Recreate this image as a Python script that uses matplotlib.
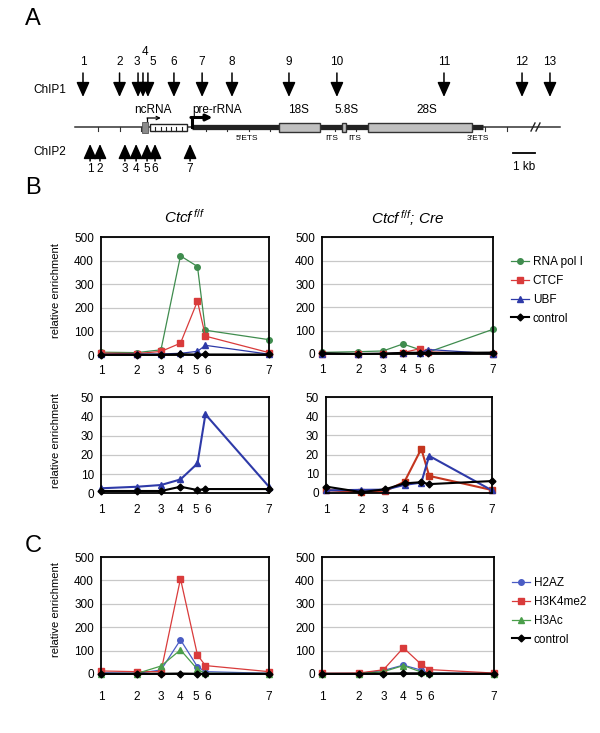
import numpy as np
import matplotlib
matplotlib.use("Agg")
import matplotlib.pyplot as plt
from matplotlib.patches import Rectangle
from matplotlib.transforms import ScaledTranslation

plt.rcParams['font.family'] = ['Liberation Sans', 'DejaVu Sans']
plt.rcParams['mathtext.fontset'] = 'custom'
plt.rcParams['mathtext.it'] = 'Liberation Sans:italic'
plt.rcParams['mathtext.rm'] = 'Liberation Sans'

W, H = 600, 733

# ---- panel A: rDNA repeat map, kb from the pre-rRNA start ----
chip1_kb = [-5.07, -3.37, -2.51, -2.28, -2.05, -0.84, 0.47, 1.86, 4.51, 6.74, 11.72, 15.35, 16.65]
chip1_names = ['1', '2', '3', '4', '5', '6', '7', '8', '9', '10', '11', '12', '13']
chip2_kb = [-4.74, -4.28, -3.12, -2.60, -2.09, -1.72, -0.09]
chip2_names = ['1', '2', '3', '4', '5', '6', '7']
rrna_names = ['18S', '5.8S', '28S']
rrna_start = [4.05, 6.96, 8.19]
rrna_end = [5.95, 7.14, 13.02]
spacer_names = ["5'ETS", 'ITS', 'ITS', "3'ETS"]
spacer_kb = [2.56, 6.50, 7.58, 13.30]
ncrna_start, ncrna_end = -1.95, -0.23
prerna_end = 13.53

# ---- panels B/C: ChIP2 amplicons ----
amplicon_kb = [0, 0.99, 1.66, 2.20, 2.67, 2.89, 4.65]
amplicon_names = ['1', '2', '3', '4', '5', '6', '7']

polI_ff = [12, 10, 22, 420, 375, 105, 65]
ctcf_ff = [8, 6, 15, 50, 228, 80, 10]
ubf_ff = [2.6, 3.4, 4.3, 7.2, 15.5, 41, 3.4]
ctrl_ff = [1.2, 1.2, 1.2, 3.4, 1.7, 2.2, 2.2]

polI_cre = [7, 10, 13, 43, 18, 8, 106]
ctcf_cre = [1.4, 0.2, 0.8, 5.8, 23, 8.8, 1.4]
ubf_cre = [1.2, 1.5, 1.6, 4.1, 5.3, 19.3, 1.2]
ctrl_cre = [3.2, 0.3, 1.8, 4.9, 5.5, 4.5, 6.1]

h2az_ff = [5, 3, 17, 146, 31, 10, 3]
h3k4_ff = [13, 10, 10, 407, 81, 36, 10]
h3ac_ff = [1, 2, 34, 103, 20, 3, 2]
hctrl_ff = [1, 1, 1, 2, 1, 1, 1]

h2az_cre = [2, 2, 15, 38, 17, 5, 2]
h3k4_cre = [3, 4, 18, 112, 43, 19, 4]
h3ac_cre = [1, 1, 10, 36, 9, 3, 1]
hctrl_cre = [1, 1, 2, 3, 3, 2, 1]

GREEN = '#3f8c4e'
RED = '#d93b3b'
BLUE = '#2e3aa8'
BLUE2 = '#4a5cc4'
GREEN2 = '#4a9e4a'


def px2kb(p):
    return (p - 192) / 21.5


def rect(x0, y0, x1, y1):
    return [x0 / W, 1 - y1 / H, (x1 - x0) / W, (y1 - y0) / H]


fig = plt.figure(figsize=(6, 7.33), dpi=100)

# ================= panel A =================
axA = fig.add_axes([0, 0, 1, 1])
axA.set_xlim(px2kb(0), px2kb(W))
axA.set_ylim(H, 0)
axA.axis('off')

yl = 127
axA.plot([px2kb(75), px2kb(560)], [yl, yl], color='#333333', lw=1.1, zorder=1)
for t in np.arange(-4.37, 15.0, 1.0):
    axA.plot([t, t], [yl, yl + 4], color='#333333', lw=0.8, zorder=1)
axA.plot([0, prerna_end], [yl, yl], color='#222222', lw=3.8, solid_capstyle='butt', zorder=2)
for s, e in zip(rrna_start, rrna_end):
    axA.add_patch(Rectangle((s, yl - 4.5), e - s, 9, fc='#c0c0c0', ec='#333333', lw=1, zorder=3))
# promoter block and ncRNA
axA.add_patch(Rectangle((-2.33, yl - 5.5), 0.28, 11, fc='#8a8a8a', ec='#555555', lw=0.6, zorder=3))
axA.add_patch(Rectangle((ncrna_start, yl - 3.5), ncrna_end - ncrna_start, 7.5,
                        fc='white', ec='#222222', lw=1, zorder=3))
for xx in np.linspace(ncrna_start, ncrna_end, 8)[1:-1]:
    axA.plot([xx, xx], [yl, yl + 4], color='#222222', lw=0.8, zorder=4)
# "//" break
for bx in [533, 538]:
    axA.plot([px2kb(bx - 2), px2kb(bx + 2)], [yl + 4, yl - 4], color='#222222', lw=1, zorder=4)

# transcription start arrows
axA.plot([-2.09, -2.09], [yl - 4, 118], color='k', lw=0.9)
axA.annotate('', xy=(-1.45, 118), xytext=(-2.09, 118),
             arrowprops=dict(arrowstyle='->', lw=0.9, color='k', shrinkA=0, shrinkB=0, mutation_scale=6))
axA.plot([0, 0], [yl, 117.5], color='k', lw=2.2)
axA.annotate('', xy=(0.95, 117.5), xytext=(-0.05, 117.5),
             arrowprops=dict(arrowstyle='-|>', lw=2.2, color='k', shrinkA=0, shrinkB=0, mutation_scale=9))

gene_label_kb = [-1.81, 1.16, 4.93, 7.2, 10.93]
for k, name in zip(gene_label_kb, ['ncRNA', 'pre-rRNA'] + rrna_names):
    axA.text(k, 110, name, ha='center', va='center', fontsize=8.5)
for k, name in zip(spacer_kb, spacer_names):
    axA.text(k, 138, name, ha='center', va='center', fontsize=6)

# ChIP1 primer sites
arrow_kw = dict(arrowstyle='-|>,head_length=0.9,head_width=0.4', lw=1.1, color='k',
                shrinkA=0, shrinkB=0, mutation_scale=10)
for k in chip1_kb:
    axA.annotate('', xy=(k, 97), xytext=(k, 73), arrowprops=arrow_kw)
label_shift = [0, 0, -0.07, 0.09, 0.22, 0, 0, 0, 0, 0, 0, 0, 0]
for i, (k, name) in enumerate(zip(chip1_kb, chip1_names)):
    ly = 52 if name == '4' else 62
    axA.text(k + label_shift[i], ly, name, ha='center', va='center', fontsize=8.5)

# ChIP2 primer sites
for k, name in zip(chip2_kb, chip2_names):
    axA.annotate('', xy=(k, 144), xytext=(k, 161), arrowprops=arrow_kw)
    axA.text(k, 169, name, ha='center', va='center', fontsize=8.5)

axA.plot([14.93, 15.95], [153, 153], color='k', lw=1.3)
axA.text(15.44, 167, '1 kb', ha='center', va='center', fontsize=8.5)

fig.text(33 / W, 1 - 90 / H, 'ChIP1', ha='left', va='center', fontsize=8.5)
fig.text(33 / W, 1 - 152 / H, 'ChIP2', ha='left', va='center', fontsize=8.5)

for letter, ly in [('A', 19), ('B', 188), ('C', 546)]:
    fig.text(33 / W, 1 - ly / H, letter, ha='center', va='center', fontsize=17)


# ================= panels B, C =================
def chip_plot(box, series, ymax, ystep, xpad, ylabel=False, title=None):
    ax = fig.add_axes(rect(*box))
    lines = []
    for vals, color, marker, lw, ms, name in series:
        ln, = ax.plot(amplicon_kb, vals, color=color, marker=marker, ms=ms, lw=lw,
                      mec=color, mfc=color, clip_on=False, label=name)
        lines.append(ln)
    ax.set_xlim(amplicon_kb[0], amplicon_kb[-1])
    ax.set_ylim(0, ymax)
    ax.set_yticks(np.arange(0, ymax + 1, ystep))
    ax.set_xticks(amplicon_kb, amplicon_names)
    ax.tick_params(axis='both', length=0, labelsize=8.5)
    ax.tick_params(axis='x', pad=xpad)
    ax.tick_params(axis='y', pad=5)
    # spread the crowded "5 6" labels a little
    for lbl, dx in zip(ax.get_xticklabels(), [0, 0, 0, 0, -2, 2, 0]):
        lbl.set_transform(lbl.get_transform() + ScaledTranslation(dx / 100, 0, fig.dpi_scale_trans))
    ax.yaxis.grid(True, color='#c8c8c8', lw=0.9)
    ax.set_axisbelow(True)
    for sp in ax.spines.values():
        sp.set_linewidth(1.3)
    if ylabel:
        ax.set_ylabel('relative enrichment', fontsize=8)
        ax.yaxis.set_label_coords(-(box[0] - 61) / (box[2] - box[0]), 0.55)
    if title:
        ax.set_title(title, fontsize=11, pad=10, fontstyle='italic')
    return lines


b_top_ff = [(polI_ff, GREEN, 'o', 0.9, 4, 'RNA pol I'),
            (ctcf_ff, RED, 's', 0.9, 4, 'CTCF'),
            (ubf_ff, BLUE, '^', 0.9, 4, 'UBF'),
            (ctrl_ff, 'k', 'D', 1.5, 3.5, 'control')]
b_top_cre = [(polI_cre, GREEN, 'o', 0.9, 4, 'RNA pol I'),
             (ctcf_cre, RED, 's', 0.9, 4, 'CTCF'),
             (ubf_cre, BLUE, '^', 0.9, 4, 'UBF'),
             (ctrl_cre, 'k', 'D', 1.5, 3.5, 'control')]

handles = chip_plot((101, 237, 269, 355), b_top_ff, 500, 100, 7, ylabel=True,
                    title=r'$Ctcf^{\,f/f}$')
chip_plot((322, 237.5, 493, 354), b_top_cre, 500, 100, 7,
          title=r'$Ctcf^{\,f/f}$; $Cre$')

chip_plot((101, 397, 269, 493.3),
          [(ubf_ff, BLUE, '^', 1.5, 4, 'UBF'), (ctrl_ff, 'k', 'D', 1.5, 3.5, 'control')],
          50, 10, 8, ylabel=True)
chip_plot((326, 397.3, 492, 492.7),
          [(ctcf_cre, '#c4351e', 's', 1.5, 4, 'CTCF'), (ubf_cre, BLUE, '^', 1.5, 4, 'UBF'),
           (ctrl_cre, 'k', 'D', 1.5, 3.5, 'control')],
          50, 10, 8)

c_ff = [(h2az_ff, BLUE2, 'o', 0.9, 4, 'H2AZ'),
        (h3k4_ff, RED, 's', 0.9, 4, 'H3K4me2'),
        (h3ac_ff, GREEN2, '^', 0.9, 4, 'H3Ac'),
        (hctrl_ff, 'k', 'D', 1.5, 3.5, 'control')]
c_cre = [(h2az_cre, BLUE2, 'o', 0.9, 4, 'H2AZ'),
         (h3k4_cre, RED, 's', 0.9, 4, 'H3K4me2'),
         (h3ac_cre, GREEN2, '^', 0.9, 4, 'H3Ac'),
         (hctrl_cre, 'k', 'D', 1.5, 3.5, 'control')]
handles_c = chip_plot((101, 557, 269, 674), c_ff, 500, 100, 12, ylabel=True)
chip_plot((322, 557, 494, 674), c_cre, 500, 100, 12)

leg_kw = dict(loc='upper left', frameon=False, fontsize=8.5, borderpad=0, borderaxespad=0,
              handlelength=1.55, handletextpad=0.3, labelspacing=0.58)
fig.legend(handles=handles, bbox_to_anchor=(511 / W, 1 - 256 / H), **leg_kw)
fig.legend(handles=handles_c, bbox_to_anchor=(512 / W, 1 - 577 / H), **leg_kw)

fig.savefig('out.png', dpi=100)
